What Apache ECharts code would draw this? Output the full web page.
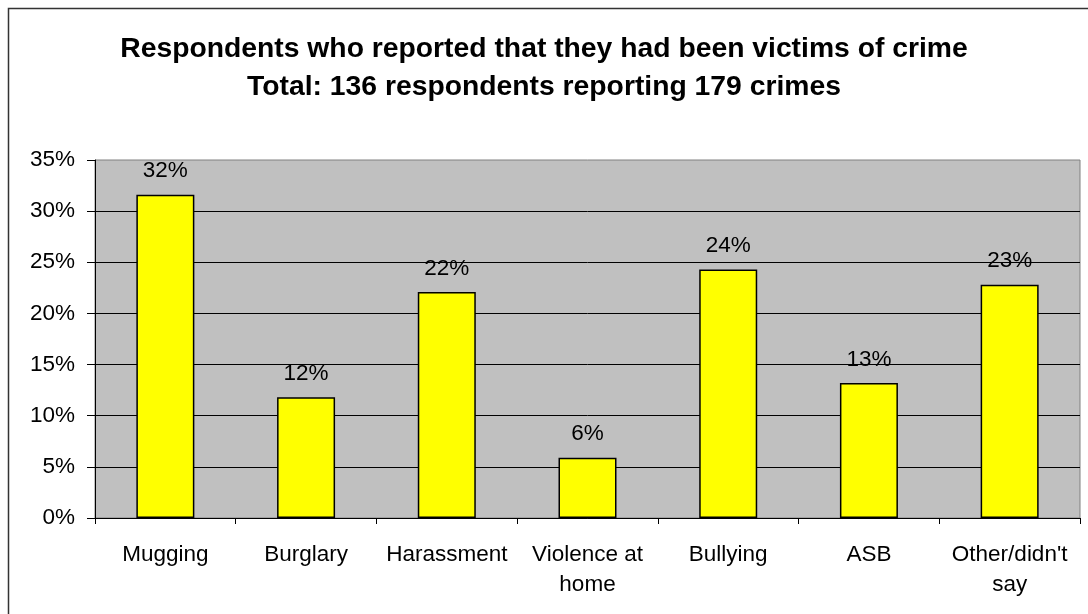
<!DOCTYPE html>
<html>
<head>
<meta charset="utf-8">
<script src="https://cdn.jsdelivr.net/npm/echarts@6/dist/echarts.min.js"></script>
<style>
  html, body { margin: 0; padding: 0; background: #fff; }
  #chart { width: 1088px; height: 614px; }
</style>
</head>
<body>
<div id="chart"></div>
<script>
// Share of the 136 respondents reporting each type of crime (%)
const categories = ['Mugging', 'Burglary', 'Harassment', 'Violence at\nhome', 'Bullying', 'ASB', "Other/didn't\nsay"];
const shares = [31.6, 11.8, 22.1, 5.9, 24.3, 13.2, 22.8];
const titleLines = [
  'Respondents who reported that they had been victims of crime',
  'Total: 136 respondents reporting 179 crimes'
];

const FONT = '"Liberation Sans", Arial, sans-serif';
const AXIS_FONT_SIZE = 22.5;
const chart = echarts.init(document.getElementById('chart'));

chart.setOption({
  animation: false,
  backgroundColor: '#ffffff',
  textStyle: { fontFamily: FONT },
  title: {
    text: titleLines.join('\n'),
    left: 'center',
    top: 25,
    textStyle: {
      fontFamily: FONT,
      fontSize: 28.3,
      fontWeight: 'bold',
      color: '#000',
      lineHeight: 38
    }
  },
  graphic: [{
    type: 'rect',
    shape: { x: 8.5, y: 8.5, width: 1100, height: 700 },
    style: { fill: 'none', stroke: '#333', lineWidth: 1.5 },
    silent: true,
    z: -1
  }],
  grid: {
    left: 95,
    right: 8,
    top: 160,
    bottom: 96,
    show: true,
    backgroundColor: '#c0c0c0',
    borderColor: '#808080',
    borderWidth: 1
  },
  xAxis: {
    type: 'category',
    data: categories,
    axisLine: { lineStyle: { color: '#000', width: 1 } },
    axisTick: { show: true, alignWithLabel: false, length: 6, lineStyle: { color: '#000' } },
    axisLabel: {
      interval: 0,
      margin: 22,
      fontSize: AXIS_FONT_SIZE,
      lineHeight: 30,
      color: '#000',
      fontFamily: FONT
    }
  },
  yAxis: {
    type: 'value',
    min: 0,
    max: 35,
    interval: 5,
    axisLine: { show: true, lineStyle: { color: '#000', width: 1 } },
    axisTick: { show: true, length: 8, lineStyle: { color: '#000' } },
    axisLabel: {
      formatter: '{value}%',
      fontSize: AXIS_FONT_SIZE,
      margin: 20,
      color: '#000',
      fontFamily: FONT
    },
    splitLine: {
      show: true,
      showMaxLine: false,
      lineStyle: { color: '#000', width: 1 }
    }
  },
  series: [{
    type: 'bar',
    data: shares,
    barWidth: 58,
    itemStyle: { color: '#ffff00', borderColor: '#000', borderWidth: 1.5 },
    label: {
      show: true,
      position: 'top',
      distance: 12,
      fontSize: AXIS_FONT_SIZE,
      color: '#000',
      fontFamily: FONT,
      formatter: p => Math.round(p.value) + '%'
    }
  }]
});
</script>
</body>
</html>
